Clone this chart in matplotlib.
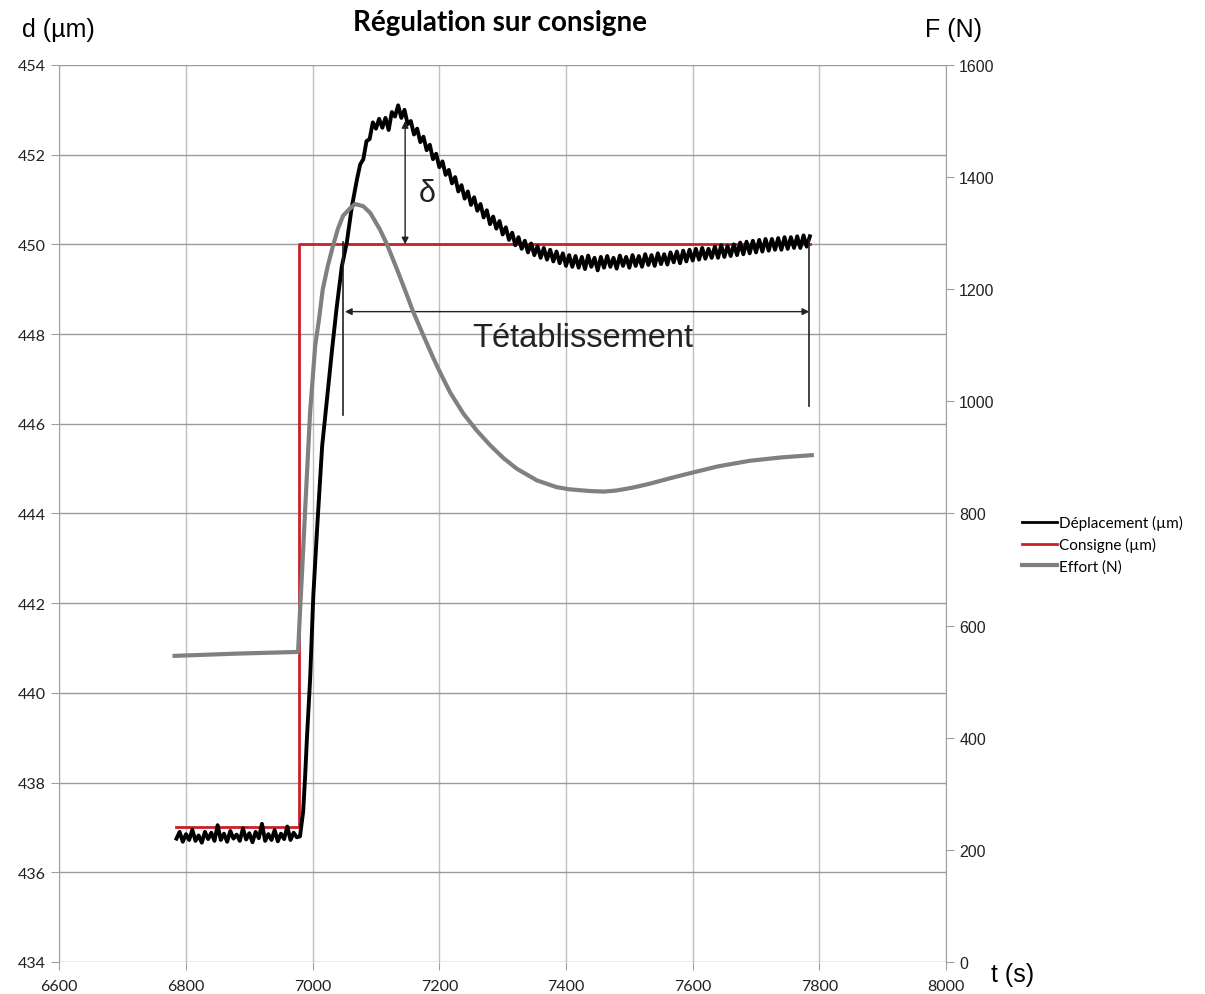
import matplotlib
matplotlib.use("Agg")
import matplotlib.pyplot as plt
from matplotlib.lines import Line2D
import numpy as np

plt.rcParams['font.family'] = ['Lato', 'DejaVu Sans']

# Déplacement (µm) - flat part before the step (t = 6785..6975, every 5 s)
flat_t = np.arange(6785, 6976, 5)
flat_d = [436.75, 436.9, 436.68, 436.85, 436.72, 436.95, 436.7, 436.82, 436.66, 436.9,
          436.74, 436.88, 436.7, 437.05, 436.72, 436.86, 436.68, 436.92, 436.75, 436.84,
          436.7, 436.98, 436.73, 436.87, 436.67, 436.9, 436.76, 437.08, 436.7, 436.85,
          436.72, 436.94, 436.69, 436.86, 436.74, 437.02, 436.72, 436.88, 436.78]

# rise after the step
rise_t = [6980, 6985, 6988, 6991, 6996, 7001, 7007, 7015, 7023, 7031, 7038, 7046, 7054, 7062, 7070]
rise_d = [436.8, 437.35, 438.1, 439.0, 440.3, 442.15, 443.65, 445.5, 446.6, 447.7,
          448.6, 449.5, 450.05, 450.85, 451.45]

# overshoot and settling (t = 7075..7785, every 5 s)
settle_t = np.arange(7075, 7786, 5)
settle_d = [451.78, 451.90, 452.30, 452.35, 452.72, 452.58, 452.80, 452.60, 452.82, 452.55,  # 7075
            452.95, 452.85, 453.10, 452.82, 453.00, 452.68, 452.75, 452.45, 452.58, 452.28,  # 7125
            452.40, 452.10, 452.22, 451.90, 452.02, 451.72, 451.85, 451.55, 451.66, 451.36,  # 7175
            451.50, 451.18, 451.32, 451.02, 451.18, 450.88, 451.05, 450.75, 450.90, 450.60,  # 7225
            450.76, 450.45, 450.62, 450.35, 450.52, 450.22, 450.38, 450.10, 450.26, 449.98,  # 7275
            450.16, 449.90, 450.08, 449.82, 450.02, 449.76, 449.96, 449.70, 449.92, 449.66,  # 7325
            449.88, 449.62, 449.84, 449.58, 449.80, 449.52, 449.76, 449.50, 449.74, 449.48,  # 7375
            449.72, 449.45, 449.75, 449.50, 449.70, 449.42, 449.72, 449.48, 449.74, 449.50,  # 7425
            449.70, 449.46, 449.75, 449.52, 449.72, 449.48, 449.76, 449.52, 449.74, 449.50,  # 7475
            449.78, 449.54, 449.76, 449.52, 449.80, 449.56, 449.78, 449.55, 449.82, 449.60,  # 7525
            449.84, 449.58, 449.86, 449.62, 449.88, 449.64, 449.90, 449.66, 449.92, 449.68,  # 7575
            449.90, 449.70, 449.95, 449.70, 449.98, 449.72, 449.96, 449.74, 450.00, 449.76,  # 7625
            450.04, 449.78, 450.06, 449.80, 450.08, 449.82, 450.10, 449.84, 450.12, 449.86,  # 7675
            450.12, 449.88, 450.14, 449.88, 450.16, 449.90, 450.16, 449.92, 450.18, 449.92,  # 7725
            450.20, 449.95, 450.18]                                                          # 7775

# Consigne (µm)
cons_t = [6785, 6978, 6978, 7785]
cons_d = [437, 437, 450, 450]

# Effort (N)
eff_t = [6782, 6880, 6977, 6980, 6984, 6988, 6996, 7004, 7010, 7016, 7024, 7032, 7040,
         7048, 7058, 7067, 7080, 7091, 7106, 7117, 7133, 7149, 7159, 7175, 7191, 7201,
         7217, 7238, 7259, 7280, 7301, 7322, 7354, 7385, 7406, 7438, 7460, 7480, 7505,
         7532, 7565, 7600, 7640, 7690, 7740, 7788]
eff_f = [546, 550, 553, 624, 712, 803, 981, 1099, 1146, 1200, 1242, 1277, 1308,
         1331, 1343, 1352, 1348, 1336, 1307, 1281, 1236, 1189, 1159, 1117, 1076, 1052,
         1016, 978, 948, 922, 899, 880, 859, 847, 843, 840, 839, 841, 846,
         853, 863, 873, 884, 894, 900, 904]

disp_t = np.concatenate([flat_t, rise_t, settle_t])
disp_d = np.concatenate([flat_d, rise_d, settle_d])

red = '#c8202a'
gray = '#808080'

fig = plt.figure(figsize=(12.05, 9.95), dpi=100)
ax = fig.add_axes([0.0492, 0.0322, 0.7359, 0.9015])
ax2 = ax.twinx()

ax.plot(cons_t, cons_d, color=red, lw=2, zorder=3)
ax.plot(disp_t, disp_d, color='black', lw=2.8, zorder=4)
ax2.plot(eff_t, eff_f, color=gray, lw=3, zorder=5)

ax.set_xlim(6600, 8000)
ax.set_ylim(434, 454)
ax2.set_ylim(0, 1600)
ax.set_xticks(np.arange(6600, 8001, 200))
ax.set_yticks(np.arange(434, 455, 2))
ax2.set_yticks(np.arange(0, 1601, 200))

ax.grid(axis='y', color='#9a9a9a', lw=1)
ax.grid(axis='x', color='#c0c0c0', lw=1)
ax.set_axisbelow(True)
for a in (ax, ax2):
    for s in a.spines.values():
        s.set_visible(False)
ax2.spines['right'].set_visible(True)
ax2.spines['right'].set_color('#a0a0a0')
ax.spines['left'].set_visible(True)
ax.spines['left'].set_color('#a0a0a0')

ax.tick_params(axis='both', colors='#a0a0a0', labelcolor='#222222', length=6, labelsize=11.5)
ax.tick_params(axis='x', pad=6)
ax2.tick_params(axis='y', colors='#a0a0a0', labelcolor='#222222', length=6, labelsize=11.5)
for lab in ax2.get_yticklabels():
    lab.set_fontfamily('Liberation Sans')

# annotations
arrow = dict(arrowstyle='<|-|>', color='#222222', lw=1, mutation_scale=10, shrinkA=0, shrinkB=0)
ax.annotate('', xy=(7146, 452.75), xytext=(7146, 450.0), arrowprops=arrow, zorder=6)
ax.text(7168, 451.15, 'δ', fontsize=22, family='Liberation Sans', color='#222222', va='center', ha='left')
ax.annotate('', xy=(7051, 448.5), xytext=(7784, 448.5), arrowprops=arrow, zorder=6)
ax.plot([7048, 7048], [450.05, 446.2], color='#222222', lw=1.2, zorder=6)
ax.plot([7784, 7784], [450.1, 446.4], color='#222222', lw=1.2, zorder=6)
ax.text(7427, 447.93, 'Tétablissement', fontsize=23.5, family='Liberation Sans',
        color='#222222', ha='center', va='center')

fig.text(0.415, 0.977, 'Régulation sur consigne', fontsize=20, fontweight='bold',
         ha='center', va='center')
fig.text(0.018, 0.970, 'd (µm)', fontsize=18, family='Liberation Sans', ha='left', va='center')
fig.text(0.815, 0.970, 'F (N)', fontsize=18, family='Liberation Sans', va='center', ha='right')
fig.text(0.822, 0.020, 't (s)', fontsize=18, family='Liberation Sans', va='center', ha='left')

handles = [Line2D([], [], color='black', lw=2),
           Line2D([], [], color=red, lw=2),
           Line2D([], [], color=gray, lw=3)]
fig.legend(handles, ['Déplacement (µm)', 'Consigne (µm)', 'Effort (N)'],
           loc='center left', bbox_to_anchor=(0.837, 0.452), frameon=False,
           fontsize=11, handlelength=2.3, handletextpad=0.1, labelspacing=0.45)

fig.savefig('out.png', dpi=100)
plt.close(fig)
